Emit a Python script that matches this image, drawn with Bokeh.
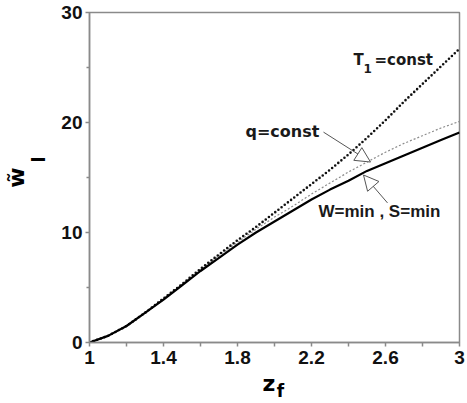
import numpy as np
from bokeh.plotting import figure
from bokeh.models import (FixedTicker, Label, Arrow, NormalHead, ColumnDataSource, LinearAxis)
from bokeh.embed import file_html
from bokeh.resources import INLINE

# data
z_f = [1.0, 1.1, 1.2, 1.3, 1.4, 1.5, 1.6, 1.7, 1.8, 1.9, 2.0,
       2.1, 2.2, 2.3, 2.4, 2.5, 2.6, 2.7, 2.8, 2.9, 3.0]
w_min = [0, 0.6, 1.5, 2.7, 3.9, 5.2, 6.5, 7.7, 8.9, 10.0, 11.0,
         12.0, 13.0, 13.9, 14.7, 15.6, 16.3, 17.0, 17.7, 18.4, 19.1]
q_const = [0, 0.6, 1.5, 2.7, 4.0, 5.3, 6.6, 7.9, 9.1, 10.3, 11.4,
           12.4, 13.5, 14.5, 15.5, 16.4, 17.3, 18.1, 18.8, 19.5, 20.1]
t1_const = [0, 0.6, 1.5, 2.7, 4.0, 5.3, 6.7, 8.0, 9.3, 10.5, 11.8,
            13.1, 14.4, 15.7, 17.1, 18.6, 20.2, 21.9, 23.5, 25.1, 26.7]

x_major = [1, 1.4, 1.8, 2.2, 2.6, 3]
x_minor = [1.2, 1.6, 2.0, 2.4, 2.8]
y_major = [0, 10, 20, 30]
y_minor = [5, 15, 25]

src = ColumnDataSource(dict(x=z_f, w=w_min, q=q_const, t=t1_const))

p = figure(width=467, height=403, x_range=(1, 3), y_range=(0, 30),
           output_backend="svg", toolbar_location=None,
           min_border_left=89, min_border_right=8, min_border_top=12,
           min_border_bottom=60)
p.grid.visible = False
p.outline_line_color = "#8a8a8a"
p.outline_line_width = 1.5
p.background_fill_color = "white"
p.border_fill_color = "white"

for ax in (p.xaxis, p.yaxis):
    ax.axis_line_color = "#8a8a8a"
    ax.axis_line_width = 1.5
    ax.major_tick_line_color = "#8a8a8a"
    ax.minor_tick_line_color = "#8a8a8a"
    ax.major_tick_line_width = 1.5
    ax.minor_tick_line_width = 1.5
    ax.major_tick_in = 0
    ax.minor_tick_in = 0
    ax.major_label_text_font = "Liberation Sans"
    ax.major_label_text_font_style = "bold"
    ax.major_label_text_font_size = "19px"
    ax.major_label_text_color = "#111111"
    ax.axis_label_text_color = "#000000"
    ax.axis_label_text_font_style = "bold"

p.xaxis.ticker = FixedTicker(ticks=x_major, minor_ticks=x_minor)
p.yaxis.ticker = FixedTicker(ticks=y_major, minor_ticks=y_minor)
p.xaxis.major_tick_out = 4
p.xaxis.minor_tick_out = 4
p.yaxis.major_tick_out = 4
p.yaxis.minor_tick_out = 3
p.xaxis.major_label_standoff = 4
p.yaxis.major_label_standoff = 3

# axis titles: main part on the tick axes, sub/superscript parts on label-only axes
p.xaxis.axis_label = "z\u2002"
p.xaxis.axis_label_text_font = "DejaVu Sans"
p.xaxis.axis_label_text_font_size = "22px"
p.xaxis.axis_label_standoff = 4

p.yaxis.axis_label = "\u2003\u2002\u2009I"
p.yaxis.axis_label_text_font = "Liberation Sans"
p.yaxis.axis_label_text_font_size = "21px"
p.yaxis.axis_label_standoff = 9


def label_axis(place, text, font, size, standoff):
    ax = LinearAxis(ticker=FixedTicker(ticks=[]), axis_line_color=None,
                    major_tick_line_color=None, minor_tick_line_color=None,
                    major_tick_out=0, minor_tick_out=0, major_label_standoff=0,
                    major_label_text_font_size="1px",
                    axis_label=text, axis_label_text_font=font,
                    axis_label_text_font_style="bold", axis_label_text_font_size=size,
                    axis_label_text_color="#000000", axis_label_standoff=standoff)
    p.add_layout(ax, place)
    return ax


label_axis("below", "\u2002\u2009f", "DejaVu Sans", "17px", -18)
label_axis("left", "w\u0303", "DejaVu Sans", "22px", -5)

p.line("x", "q", source=src, line_color="#8c8c8c", line_width=1.2, line_dash="2 2")
p.line("x", "t", source=src, line_color="#111111", line_width=2.6,
       line_dash="0 4", line_cap="round")
p.line("x", "w", source=src, line_color="#000000", line_width=2.2)


def px2x(px):
    return 1 + (px - 89) / 185.0


def px2y(py):
    return (343 - py) / 11.033


txt = "#1a1a1a"
# curve labels
p.add_layout(Label(x=px2x(353), y=px2y(69), text="T", text_font="DejaVu Sans",
                   text_font_style="bold", text_font_size="15px", text_color=txt))
p.add_layout(Label(x=px2x(363), y=px2y(73), text="1", text_font="DejaVu Sans",
                   text_font_style="bold", text_font_size="12px", text_color=txt))
p.add_layout(Label(x=px2x(374), y=px2y(69), text="=const", text_font="DejaVu Sans",
                   text_font_style="bold", text_font_size="15px", text_color=txt))
p.add_layout(Label(x=px2x(245), y=px2y(141), text="q=const", text_font="DejaVu Sans",
                   text_font_style="bold", text_font_size="16px", text_color=txt))
p.add_layout(Label(x=px2x(318), y=px2y(221), text="W=min , S=min", text_font="Liberation Sans",
                   text_font_style="bold", text_font_size="17px", text_color=txt))

# arrows
p.add_layout(Arrow(x_start=px2x(323), y_start=px2y(132), x_end=px2x(370), y_end=px2y(162),
                   line_color="#555555", line_width=1,
                   end=NormalHead(size=15, fill_color="white", line_color="#555555", line_width=1)))
p.add_layout(Arrow(x_start=px2x(387), y_start=px2y(203), x_end=px2x(363), y_end=px2y(175),
                   line_color="#555555", line_width=1,
                   end=NormalHead(size=15, fill_color="white", line_color="#555555", line_width=1)))

open("out.html", "w").write(file_html(p, INLINE))
